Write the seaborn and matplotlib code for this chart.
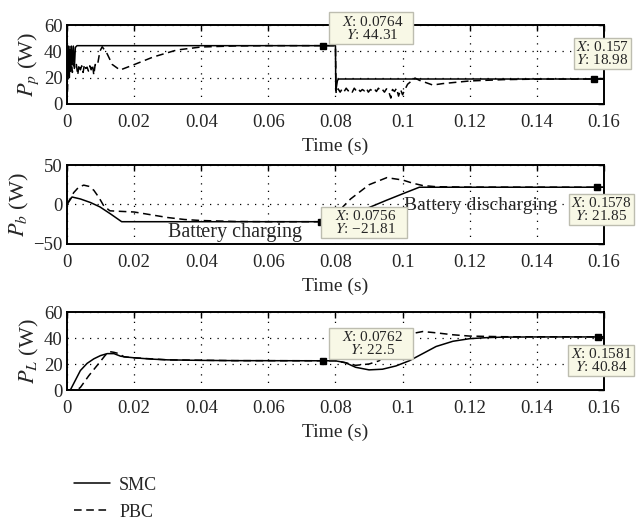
import pandas as pd
import seaborn as sns
import matplotlib.pyplot as plt

# ---- panel 1 : PV power P_p ----
t_pp_smc = [0, 0.0001, 0.0003, 0.0005, 0.0007, 0.0009, 0.0011, 0.0013, 0.0016, 0.0019,
            0.0022, 0.0025, 0.003, 0.0764, 0.0800, 0.0801, 0.0806, 0.081, 0.157, 0.16]
pp_smc = [0, 40, 22, 44, 20, 41, 25, 44, 30, 44,
          27, 43, 44.3, 44.31, 44.31, 10, 18, 18.98, 18.98, 18.98]

t_pp_pbc = [0, 0.0005, 0.001, 0.0013, 0.0016, 0.002, 0.0024, 0.0028, 0.0032, 0.0036,
            0.004, 0.0044, 0.0048, 0.0052, 0.0056, 0.006, 0.0064, 0.0068, 0.0072, 0.0076,
            0.008, 0.0084, 0.0088, 0.0092, 0.0098, 0.0105, 0.012, 0.0135, 0.0158, 0.0197,
            0.0257, 0.0327, 0.04, 0.05, 0.06, 0.0800, 0.0802, 0.0808, 0.0814, 0.082,
            0.0826, 0.0832, 0.0838, 0.0844, 0.085, 0.0856, 0.0862, 0.0868, 0.0874, 0.088,
            0.0886, 0.0892, 0.0898, 0.0904, 0.091, 0.0916, 0.0922, 0.0928, 0.0934, 0.094,
            0.0946, 0.0952, 0.0958, 0.0965, 0.097, 0.0976, 0.0982, 0.0988, 0.0994, 0.1,
            0.1005, 0.1015, 0.1037, 0.105, 0.109, 0.112, 0.12, 0.13, 0.14, 0.16]
pp_pbc = [0, 33, 26, 35, 24, 31, 27, 30, 22, 30,
          26, 29, 24, 30, 27, 28, 25, 29, 26, 30,
          22, 30, 29, 31, 40, 43.5, 38, 30, 25.8, 29.6,
          35.7, 41, 43.3, 44.1, 44.3, 44.31, 8, 11.5, 9, 11.5,
          9.5, 12, 10, 11, 9, 12, 10, 11.5, 9.5, 11,
          10, 12, 9, 11, 10, 11.5, 9.5, 12, 10, 11,
          9, 11.5, 10, 4.5, 11, 9.5, 12, 6, 11, 7,
          10, 15, 19.7, 18, 14.4, 15.5, 17.5, 18.5, 18.9, 18.98]

# ---- panel 2 : battery power P_b ----
t_pb_smc = [0, 0.0015, 0.004, 0.007, 0.0098, 0.013, 0.0163, 0.0756, 0.0803, 0.0905,
            0.095, 0.1, 0.105, 0.1578, 0.16]
pb_smc = [0, 9.5, 7, 2.5, -3, -12, -21.8, -21.81, -21.81, -3,
          5, 13.5, 21.85, 21.85, 21.85]

t_pb_pbc = [0, 0.002, 0.0035, 0.005, 0.0065, 0.008, 0.0095, 0.011, 0.0128, 0.015,
            0.02, 0.025, 0.03, 0.035, 0.04, 0.05, 0.06, 0.0805, 0.0822, 0.0845,
            0.0868, 0.09, 0.0953, 0.1, 0.103, 0.106, 0.11, 0.12, 0.16]
pb_pbc = [0, 15, 22, 24.5, 23, 18, 9, -2, -8, -8.5,
          -9.5, -13, -16.5, -19, -20.3, -21.5, -21.8, -21.8, -3, 7,
          14.5, 25, 34, 31, 27, 24, 22.5, 22, 21.85]

# ---- panel 3 : load power P_L ----
t_pl_smc = [0, 0.001, 0.002, 0.004, 0.006, 0.008, 0.01, 0.012, 0.014, 0.016,
            0.018, 0.02, 0.025, 0.03, 0.04, 0.05, 0.0762, 0.08, 0.083, 0.086,
            0.09, 0.094, 0.098, 0.102, 0.106, 0.11, 0.115, 0.12, 0.125, 0.13,
            0.14, 0.16]
pl_smc = [0, 0, 5, 15, 20.5, 24, 26.5, 28, 28, 26,
          25.3, 24.8, 23.8, 23.2, 22.8, 22.6, 22.5, 22.5, 21, 17.5,
          15.5, 16, 18.5, 22.5, 28, 33.5, 37.5, 39.5, 40.3, 40.7,
          40.84, 40.84]

t_pl_pbc = [0, 0.003, 0.004, 0.0065, 0.0098, 0.0115, 0.0128, 0.014, 0.0155, 0.017,
            0.02, 0.03, 0.05, 0.08, 0.083, 0.086, 0.09, 0.093, 0.096, 0.1,
            0.103, 0.106, 0.11, 0.115, 0.12, 0.13, 0.16]
pl_pbc = [0, 0, 2, 11, 21.5, 27, 29.5, 29, 28, 25.5,
          24.8, 23.2, 22.6, 22.5, 21, 19, 20, 22.5, 30, 38.5,
          43.5, 45, 44, 42.5, 41.5, 41, 40.84]

# data tips (x, y) per panel
tips_pp = [(0.0764, 44.31), (0.157, 18.98)]
tips_pb = [(0.0756, -21.81), (0.1578, 21.85)]
tips_pl = [(0.0762, 22.5), (0.1581, 40.84)]

x_ticks = [0, 0.02, 0.04, 0.06, 0.08, 0.1, 0.12, 0.14, 0.16]
x_tick_labels = ['0', '0.02', '0.04', '0.06', '0.08', '0.1', '0.12', '0.14', '0.16']


def to_long(t_smc, v_smc, t_pbc, v_pbc):
    a = pd.DataFrame({'t': t_smc, 'P': v_smc, 'method': 'SMC'})
    b = pd.DataFrame({'t': t_pbc, 'P': v_pbc, 'method': 'PBC'})
    return pd.concat([a, b], ignore_index=True)


def fmt_num(v):
    s = f"{v:g}"
    return s.replace('-', '\u2212')


sns.set_theme(style='white')
plt.rcParams['font.family'] = ['Liberation Serif', 'DejaVu Serif']
plt.rcParams['mathtext.fontset'] = 'stix'
plt.rcParams['axes.unicode_minus'] = True

fig = plt.figure(figsize=(6.36, 5.21), dpi=100)
ax_pos = [
    [0.1053, 0.8004, 0.8443, 0.1516],
    [0.1053, 0.5317, 0.8443, 0.1516],
    [0.1053, 0.2514, 0.8443, 0.1497],
]

# offsets of tip boxes in pixels (left tip, right tip)
panels = [
    (to_long(t_pp_smc, pp_smc, t_pp_pbc, pp_pbc), r'$P_p$ (W)', (0, 60), [0, 20, 40, 60], tips_pp,
     [(47.6, 17.6), (8.5, 25.5)]),
    (to_long(t_pb_smc, pb_smc, t_pb_pbc, pb_pbc), r'$P_b$ (W)', (-50, 50), [-50, 0, 50], tips_pb,
     [(43.3, -0.8), (5.0, -22.3)]),
    (to_long(t_pl_smc, pl_smc, t_pl_pbc, pl_pbc), r'$P_L$ (W)', (0, 60), [0, 20, 40, 60], tips_pl,
     [(48.3, 17.3), (3.5, -23.6)]),
]

handles, labels = None, None
for i, (df, ylab, ylim, yticks, tips, offsets) in enumerate(panels):
    ax = fig.add_axes(ax_pos[i])
    sns.lineplot(data=df, x='t', y='P', style='method', style_order=['SMC', 'PBC'],
                 dashes={'SMC': '', 'PBC': (5, 3)}, color='black', linewidth=1.1,
                 estimator=None, sort=False, legend=(i == 0), ax=ax)
    if i == 0:
        h, l = ax.get_legend_handles_labels()
        pairs = [(hh, ll) for hh, ll in zip(h, l) if ll in ('SMC', 'PBC')]
        handles = [p[0] for p in pairs]
        labels = [p[1] for p in pairs]
        ax.get_legend().remove()

    ax.set_xlim(0, 0.16)
    ax.set_ylim(*ylim)
    ax.set_xticks(x_ticks)
    ax.set_xticklabels(x_tick_labels)
    ax.set_yticks(yticks)
    ax.set_yticklabels([fmt_num(v) for v in yticks])
    ax.tick_params(direction='in', top=True, right=True, length=4.5, width=1,
                   labelsize=13.5, color='black')
    ax.tick_params(axis='x', pad=7)
    ax.tick_params(axis='y', pad=3)
    ax.grid(True, linestyle=(0, (1, 5)), color='black', linewidth=0.9)
    for sp in ax.spines.values():
        sp.set_color('black')
        sp.set_linewidth(1.4)
    ax.set_xlabel('Time (s)', fontsize=14, labelpad=5)
    ax.set_ylabel(ylab, fontsize=16, labelpad=2)

    for k, ((tx, ty), (dx, dy)) in enumerate(zip(tips, offsets)):
        ax.plot([tx], [ty], marker='s', markersize=4, color='black', zorder=5)
        sp_ = '   ' if k == 0 else ''
        txt = sp_ + r'$X$: ' + fmt_num(tx) + sp_ + '\n' + sp_ + r'$Y$: ' + fmt_num(ty) + sp_
        ax.annotate(txt, xy=(tx, ty), xytext=(dx, dy), textcoords='offset pixels',
                    ha='center', va='center', multialignment='center',
                    fontsize=11, linespacing=0.9, zorder=10,
                    annotation_clip=False,
                    bbox=dict(boxstyle='square,pad=0.15', fc='#f8f8e6', ec='#bdbdb0', lw=1))

    if i == 1:
        ax.text(0.030, -35, 'Battery charging', fontsize=14.5, ha='left', va='center', zorder=6)
        ax.text(0.1005, -1, 'Battery discharging', fontsize=14, ha='left', va='center', zorder=6)

fig.legend(handles, labels, loc='center left', bbox_to_anchor=(0.105, 0.043),
           frameon=False, fontsize=13, handlelength=2.0, handletextpad=0.5,
           labelspacing=0.55, borderaxespad=0)

fig.savefig('out.png', dpi=100)
